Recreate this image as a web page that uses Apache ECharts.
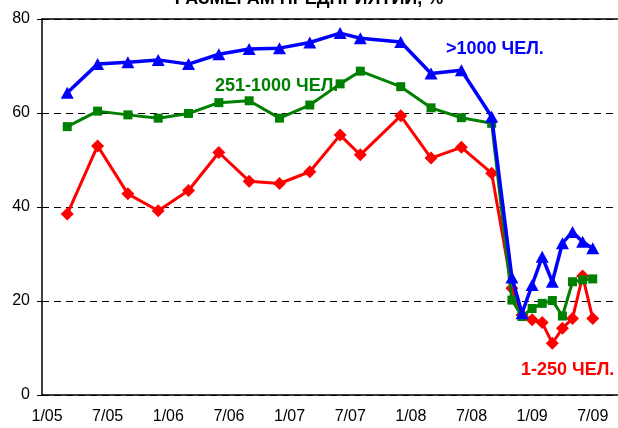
<!DOCTYPE html>
<html>
<head>
<meta charset="utf-8">
<script src="https://cdn.jsdelivr.net/npm/echarts@6/dist/echarts.min.js"></script>
<style>
  html, body { margin: 0; padding: 0; background: #fff; }
  #chart { width: 618px; height: 428px; }
</style>
</head>
<body>
<div id="chart"></div>
<script>
// даты наблюдений (месяц/год)
const dates = ['3/05', '6/05', '9/05', '12/05', '3/06', '6/06', '9/06', '12/06',
  '3/07', '6/07', '8/07', '12/07', '3/08', '6/08', '9/08', '11/08', '12/08',
  '1/09', '2/09', '3/09', '4/09', '5/09', '6/09', '7/09'];

// >1000 чел.
const big = [64.3, 70.4, 70.8, 71.3, 70.4, 72.5, 73.6, 73.8, 75.0, 77.0, 75.9, 75.1,
  68.4, 69.1, 59.2, 25.0, 17.4, 23.4, 29.4, 24.1, 32.3, 34.7, 32.6, 31.2];
// 251-1000 чел.
const mid = [57.1, 60.4, 59.6, 58.9, 59.9, 62.2, 62.6, 58.9, 61.7, 66.2, 68.9, 65.6,
  61.1, 59.0, 57.8, 20.2, 16.7, 18.4, 19.5, 20.1, 16.8, 24.1, 24.5, 24.7];
// 1-250 чел.
const small = [38.5, 53.0, 42.8, 39.2, 43.5, 51.6, 45.5, 45.0, 47.5, 55.3, 51.1, 59.4,
  50.4, 52.7, 47.2, 22.7, 17.0, 16.0, 15.4, 11.0, 14.2, 16.3, 25.3, 16.3];

const yTicks = [0, 20, 40, 60, 80];

// месячная ось 1/05 ... 9/09
const months = [];
for (let y = 5; y <= 9; y++) {
  for (let m = 1; m <= 12; m++) {
    if (y === 9 && m > 9) break;
    months.push(m + '/' + String(y).padStart(2, '0'));
  }
}

const font = "'Liberation Sans', Arial, sans-serif";

function pairs(vals) {
  return dates.map((d, i) => [d, vals[i]]);
}

const chart = echarts.init(document.getElementById('chart'));

chart.setOption({
  animation: false,
  textStyle: { fontFamily: font },
  grid: { left: 42, top: 19, right: 0, bottom: 33 },
  xAxis: [{
    type: 'category',
    data: months,
    boundaryGap: true,
    position: 'bottom',
    axisLine: { lineStyle: { color: '#000', width: 1.5 } },
    axisTick: {
      interval: (i) => i % 3 === 0,
      length: 4,
      lineStyle: { color: '#000' }
    },
    axisLabel: {
      interval: (i) => i % 6 === 0,
      color: '#000', fontSize: 16, margin: 14, fontFamily: font
    }
  }, {
    // внутренние засечки (крестовые)
    type: 'category',
    data: months,
    boundaryGap: true,
    position: 'bottom',
    axisLine: { show: false },
    axisTick: {
      inside: true,
      interval: (i) => i % 3 === 0,
      length: 3,
      lineStyle: { color: '#000' }
    },
    axisLabel: { show: false }
  }, {
    // верхняя рамка
    type: 'category',
    data: months,
    position: 'top',
    axisLine: { show: true, lineStyle: { color: '#000', width: 1.5 } },
    axisTick: { show: false },
    axisLabel: { show: false }
  }],
  yAxis: {
    type: 'value',
    min: yTicks[0],
    max: yTicks[yTicks.length - 1],
    interval: 20,
    axisLine: { show: true, lineStyle: { color: '#000', width: 1.5 } },
    axisTick: { show: true, length: 5, lineStyle: { color: '#000' } },
    axisLabel: { color: '#000', fontSize: 16, margin: 12, fontFamily: font },
    splitLine: { lineStyle: { color: '#000', type: [7, 5], width: 1 } }
  },
  series: [{
    name: '1-250 ЧЕЛ.',
    type: 'line',
    data: pairs(small),
    showAllSymbol: true,
    symbol: 'diamond',
    symbolSize: 13,
    lineStyle: { color: '#ff0000', width: 3 },
    itemStyle: { color: '#ff0000' },
    z: 2
  }, {
    name: '251-1000 ЧЕЛ.',
    type: 'line',
    data: pairs(mid),
    showAllSymbol: true,
    symbol: 'rect',
    symbolSize: 9,
    lineStyle: { color: '#008000', width: 3 },
    itemStyle: { color: '#008000' },
    z: 3
  }, {
    name: '>1000 ЧЕЛ.',
    type: 'line',
    data: pairs(big),
    showAllSymbol: true,
    symbol: 'triangle',
    symbolSize: [13, 12],
    lineStyle: { color: '#0000ff', width: 3.5 },
    itemStyle: { color: '#0000ff' },
    z: 4
  }],
  graphic: [{
    type: 'text', left: 'center', top: -10,
    style: { text: 'РАЗМЕРАМ ПРЕДПРИЯТИЙ, %', font: 'bold 18px ' + font, fill: '#000' }
  }, {
    type: 'text', x: 446, y: 49,
    style: { text: '>1000 ЧЕЛ.', font: 'bold 18px ' + font, fill: '#0000ff', verticalAlign: 'middle' }
  }, {
    type: 'text', x: 215, y: 86,
    style: { text: '251-1000 ЧЕЛ.', font: 'bold 18px ' + font, fill: '#008000', verticalAlign: 'middle' }
  }, {
    type: 'text', x: 521, y: 370,
    style: { text: '1-250 ЧЕЛ.', font: 'bold 18px ' + font, fill: '#ff0000', verticalAlign: 'middle' }
  }]
});
</script>
</body>
</html>
